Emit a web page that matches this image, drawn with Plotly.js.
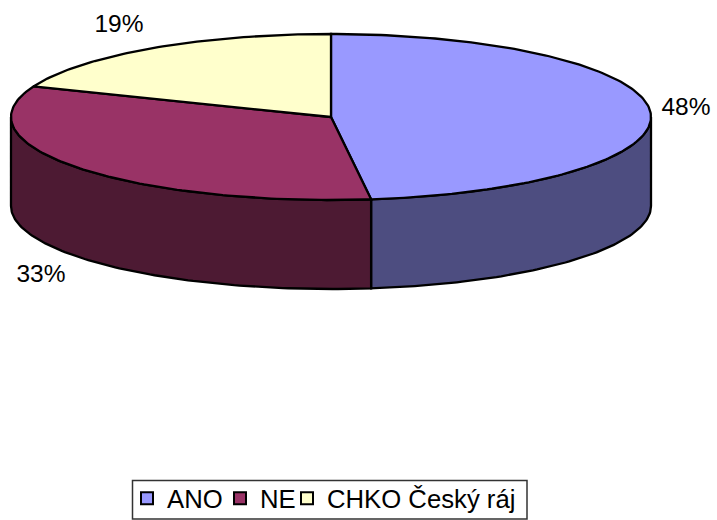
<!DOCTYPE html>
<html>
<head>
<meta charset="utf-8">
<script src="https://cdn.plot.ly/plotly-3.0.1.min.js"></script>
<style>html,body{margin:0;padding:0;background:#fff}#c{width:717px;height:520px}</style>
</head>
<body>
<div id="c"></div>
<script>
var categories = ["ANO", "NE", "CHKO Český ráj"];
var values = [48, 33, 19];
var labels = ["48%", "33%", "19%"];
var topColors = ["#9999FF", "#993366", "#FFFFCC"];
var wallColors = ["#4D4D80", "#4D1A33", "#80806A"];

var CX = 331, CY = 117, RX = 320, RY = 83, DEPTH = 89;
var LABEL_FONT = {family: "Liberation Sans, Arial, sans-serif", size: 24.5, color: "#000"};
var LEGEND_FONT = {family: "Liberation Sans, Arial, sans-serif", size: 25.7, color: "#000"};

function ptAt(deg, dy) {
  var a = deg * Math.PI / 180;
  return [CX + RX * Math.sin(a), CY - RY * Math.cos(a) + (dy || 0)];
}
function arc(a0, a1, dy) {
  var out = [], n = Math.max(2, Math.ceil(Math.abs(a1 - a0)));
  for (var i = 0; i <= n; i++) out.push(ptAt(a0 + (a1 - a0) * i / n, dy));
  return out;
}
function poly(pts, color) {
  return {
    type: "scatter", mode: "lines", fill: "toself", fillcolor: color,
    x: pts.map(function (p) { return p[0]; }),
    y: pts.map(function (p) { return p[1]; }),
    line: {color: "#000", width: 2.3, shape: "linear"},
    hoverinfo: "skip", showlegend: false
  };
}

var total = values.reduce(function (s, v) { return s + v; }, 0);
var start = 0, walls = [], tops = [];
values.forEach(function (v, i) {
  var end = start + v / total * 360;
  var w0 = Math.max(start, 90), w1 = Math.min(end, 270);
  if (w1 > w0) {
    walls.push(poly(arc(w0, w1, 0).concat(arc(w1, w0, DEPTH)).concat([ptAt(w0, 0)]), wallColors[i]));
  }
  tops.push(poly([[CX, CY]].concat(arc(start, end, 0)).concat([[CX, CY]]), topColors[i]));
  start = end;
});

var legendWidths = [48, 22, 200];
var legendTraces = categories.map(function (c, i) {
  return {
    type: "scatter", mode: "markers", name: c, x: [null], y: [null],
    marker: {symbol: "square", size: 15, color: topColors[i], line: {color: "#000", width: 1.5}},
    legendwidth: legendWidths[i],
    hoverinfo: "skip", showlegend: true
  };
});

var labelTrace = {
  type: "scatter", mode: "text",
  x: [686, 41, 119],
  y: [109, 276, 26],
  text: labels, textposition: "middle center", textfont: LABEL_FONT,
  hoverinfo: "skip", showlegend: false, cliponaxis: false
};

Plotly.newPlot("c", walls.concat(tops).concat([labelTrace]).concat(legendTraces), {
  width: 717, height: 520,
  margin: {l: 0, r: 0, t: 0, b: 0, autoexpand: false},
  paper_bgcolor: "#fff", plot_bgcolor: "#fff",
  xaxis: {range: [0, 717], visible: false, fixedrange: true},
  yaxis: {range: [520, 0], visible: false, fixedrange: true},
  shapes: [{type: "rect", xref: "x", yref: "y", x0: 132.5, x1: 527, y0: 480.5, y1: 519,
            line: {color: "#333", width: 1.5}, fillcolor: "rgba(0,0,0,0)", layer: "below"}],
  showlegend: true,
  legend: {
    orientation: "h", x: 127 / 717, y: 1 - 475 / 520, xanchor: "left", yanchor: "top",
    font: LEGEND_FONT, bgcolor: "rgba(0,0,0,0)", borderwidth: 0,
    itemsizing: "constant", itemwidth: 30, traceorder: "normal"
  }
}, {displayModeBar: false, staticPlot: true});
</script>
</body>
</html>
